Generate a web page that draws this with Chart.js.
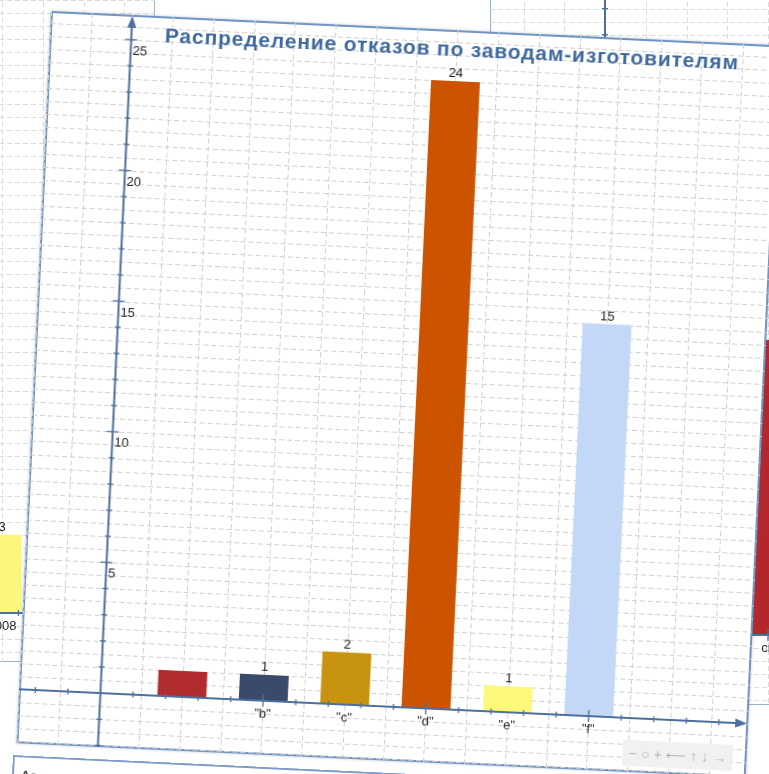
<!DOCTYPE html>
<html>
<head>
<meta charset="utf-8">
<title>Распределение отказов по заводам-изготовителям</title>
<script src="https://cdn.jsdelivr.net/npm/chart.js@4.4.1/dist/chart.umd.min.js"></script>
<style>
    html, body { margin: 0; padding: 0; width: 769px; height: 774px; overflow: hidden; background: #fff; }
    .win { position: absolute; background: #fff; transform-origin: 0 0; box-shadow: inset 0 0 0 1px #9bb0cc; }
    .win canvas { position: absolute; left: 0; top: 0; }
    #leftWin { left: -145px; top: -30px; width: 300px; height: 692px; }
    #rightWin { left: 490px; top: -30px; width: 420px; height: 735px; }
    #mainWin { left: 51px; top: 11px; width: 730px; height: 733px; transform: rotate(2.7deg);
               box-shadow: inset 0 0 0 2px #7194c2, 0 0 3px rgba(80, 110, 150, 0.35); }
    #toolbar { position: absolute; left: 606px; top: 701px; width: 110px; height: 26px; background: #f1f1f1;
               display: flex; justify-content: space-between; align-items: center; padding: 0 6px; box-sizing: border-box;
               font: 14px "Liberation Sans", sans-serif; color: #b3b3b3; }
    #inputBar { position: absolute; left: -3px; top: 745px; width: 780px; height: 60px; background: #fff;
                box-shadow: inset 0 0 0 2px #7d9cc6; font: 16px "Liberation Sans", sans-serif; color: #333; }
    #inputBar span { position: absolute; left: 8px; top: 12px; }
</style>
</head>
<body>
<div class="win" id="leftWin"><canvas id="leftChart" width="300" height="692"></canvas></div>
<div class="win" id="rightWin"><canvas id="rightChart" width="420" height="735"></canvas></div>
<div class="win" id="mainWin">
    <canvas id="mainChart" width="730" height="733"></canvas>
    <div id="toolbar"><span>−</span><span>○</span><span>+</span><span>⟵</span><span>↑</span><span>↓</span><span>→</span></div>
    <div id="inputBar"><span>Ав</span></div>
</div>
<script>
// Main chart data
const categories = ['"a"', '"b"', '"c"', '"d"', '"e"', '"f"'];
const failures = [1, 1, 2, 24, 1, 15];
const labelShown = [false, true, true, true, true, true];
const yTickLabels = [5, 10, 15, 20, 25];
const chartTitle = 'Распределение отказов по заводам-изготовителям';

// Fragments of the windows lying behind
const leftCategories = ['2008'];
const leftValues = [3];
const rightCategories = ['сн'];
const rightValues = [11.3];

const barColors = ['#b22b2f', '#3b4a6c', '#c8940f', '#cc5300', '#fcf87c', '#c3d7f6'];

// GeoGebra-like drawing: dashed grid, axes through the origin, arrows, labels
const geoPlugin = {
    id: 'geo',
    beforeDatasetsDraw(chart, args, opts) {
        const { ctx, chartArea: a, scales: { x, y } } = chart;
        ctx.save();
        ctx.strokeStyle = opts.gridColor;
        ctx.lineWidth = 1;
        ctx.setLineDash([5, 3]);
        for (let v = Math.ceil(x.min / opts.gridX) * opts.gridX; v <= x.max; v += opts.gridX) {
            const px = Math.round(x.getPixelForValue(v)) + 0.5;
            ctx.beginPath(); ctx.moveTo(px, a.top); ctx.lineTo(px, a.bottom); ctx.stroke();
        }
        for (let v = Math.ceil(y.min / opts.gridY) * opts.gridY; v <= y.max; v += opts.gridY) {
            const py = Math.round(y.getPixelForValue(v)) + 0.5;
            ctx.beginPath(); ctx.moveTo(a.left, py); ctx.lineTo(a.right, py); ctx.stroke();
        }
        ctx.restore();
    },
    afterDatasetsDraw(chart, args, opts) {
        const { ctx, chartArea: a, scales: { x, y } } = chart;
        const x0 = x.getPixelForValue(0);
        const y0 = y.getPixelForValue(0);
        const col = opts.axisColor;
        ctx.save();
        ctx.strokeStyle = col;
        ctx.fillStyle = col;
        ctx.lineWidth = 2;

        // axes
        ctx.beginPath(); ctx.moveTo(a.left, y0); ctx.lineTo(a.right - 10, y0); ctx.stroke();
        ctx.beginPath(); ctx.moveTo(x0, a.bottom); ctx.lineTo(x0, a.top + 10); ctx.stroke();
        ctx.beginPath(); ctx.moveTo(a.right - 1, y0); ctx.lineTo(a.right - 13, y0 - 4.5); ctx.lineTo(a.right - 13, y0 + 4.5); ctx.fill();
        ctx.beginPath(); ctx.moveTo(x0, a.top + 1); ctx.lineTo(x0 - 4.5, a.top + 13); ctx.lineTo(x0 + 4.5, a.top + 13); ctx.fill();

        // ticks
        ctx.lineWidth = 1.3;
        for (let v = Math.ceil(x.min); v <= x.max - 0.6; v++) {
            if (v === 0) continue;
            const px = x.getPixelForValue(v);
            const len = v % 5 === 0 ? 6 : 3;
            ctx.beginPath(); ctx.moveTo(px, y0 - len); ctx.lineTo(px, y0 + len); ctx.stroke();
        }
        for (let v = Math.ceil(y.min); v <= y.max - 0.6; v++) {
            if (v === 0) continue;
            const py = y.getPixelForValue(v);
            const len = v % 5 === 0 ? 6 : 3;
            ctx.beginPath(); ctx.moveTo(x0 - len, py); ctx.lineTo(x0 + len, py); ctx.stroke();
        }

        ctx.font = '13px "Liberation Sans", Arial, sans-serif';
        ctx.fillStyle = '#1f1f1f';
        ctx.textAlign = 'left';
        ctx.textBaseline = 'top';
        opts.yLabels.forEach(v => {
            ctx.fillText(String(v), x0 + 2, y.getPixelForValue(v) + 5);
        });

        // category and value labels
        const meta = chart.getDatasetMeta(0);
        ctx.textAlign = 'center';
        meta.data.forEach((bar, i) => {
            if (!opts.shown[i]) return;
            ctx.fillStyle = '#2a2a2a';
            ctx.textBaseline = 'top';
            ctx.fillText(opts.categories[i], bar.x, y0 + 7);
            if (!opts.valueLabels) return;
            ctx.fillStyle = '#1a1a1a';
            ctx.textBaseline = 'bottom';
            ctx.fillText(String(opts.values[i]), bar.x, bar.y - 1);
        });

        if (opts.title) {
            ctx.font = 'bold 21px "Liberation Sans", Arial, sans-serif';
            ctx.letterSpacing = '0.85px';
            ctx.fillStyle = '#3f699d';
            ctx.textAlign = 'left';
            ctx.textBaseline = 'alphabetic';
            ctx.fillText(opts.title, opts.titleX, opts.titleY);
        }
        ctx.restore();
    }
};

function geoChart(canvasId, cfg) {
    const ctx = document.getElementById(canvasId).getContext('2d');
    const points = cfg.values.map((v, i) => ({ x: (i + cfg.firstSlot) * 2.5, y: v }));
    return new Chart(ctx, {
        type: 'bar',
        data: {
            datasets: [{
                data: points,
                backgroundColor: cfg.colors,
                borderWidth: 0,
                categoryPercentage: 1,
                barPercentage: 0.6
            }]
        },
        options: {
            responsive: false,
            animation: false,
            layout: { padding: 0 },
            scales: {
                x: { type: 'linear', offset: false, min: cfg.xMin, max: cfg.xMax, display: false },
                y: { type: 'linear', min: cfg.yMin, max: cfg.yMax, display: false }
            },
            plugins: {
                legend: { display: false },
                tooltip: { enabled: false },
                geo: {
                    gridX: 1.25,
                    gridY: 0.5,
                    gridColor: cfg.gridColor || '#d0d0d0',
                    axisColor: '#4d6f9d',
                    categories: cfg.categories,
                    values: cfg.values,
                    shown: cfg.shown,
                    valueLabels: cfg.valueLabels !== false,
                    yLabels: cfg.yLabels,
                    title: cfg.title,
                    titleX: 115,
                    titleY: 26
                }
            }
        },
        plugins: [geoPlugin]
    });
}

geoChart('leftChart', {
    categories: leftCategories, values: leftValues, colors: ['#fbf77d'], shown: [true],
    firstSlot: 1, xMin: -2.01, xMax: 7.19, yMin: -1.877, yMax: 24.64,
    yLabels: [], gridColor: '#dcdcdc'
});

geoChart('rightChart', {
    categories: rightCategories, values: rightValues, colors: ['#b3272c'], shown: [true],
    valueLabels: false,
    firstSlot: 2, xMin: -3.528, xMax: 9.356, yMin: -2.68, yMax: 25.48,
    yLabels: [], gridColor: '#dcdcdc'
});

geoChart('mainChart', {
    categories: categories, values: failures, colors: barColors, shown: labelShown,
    firstSlot: 1, xMin: -2.5, xMax: 19.9, yMin: -2.06, yMax: 25.95,
    yLabels: yTickLabels, title: chartTitle
});
</script>
</body>
</html>
